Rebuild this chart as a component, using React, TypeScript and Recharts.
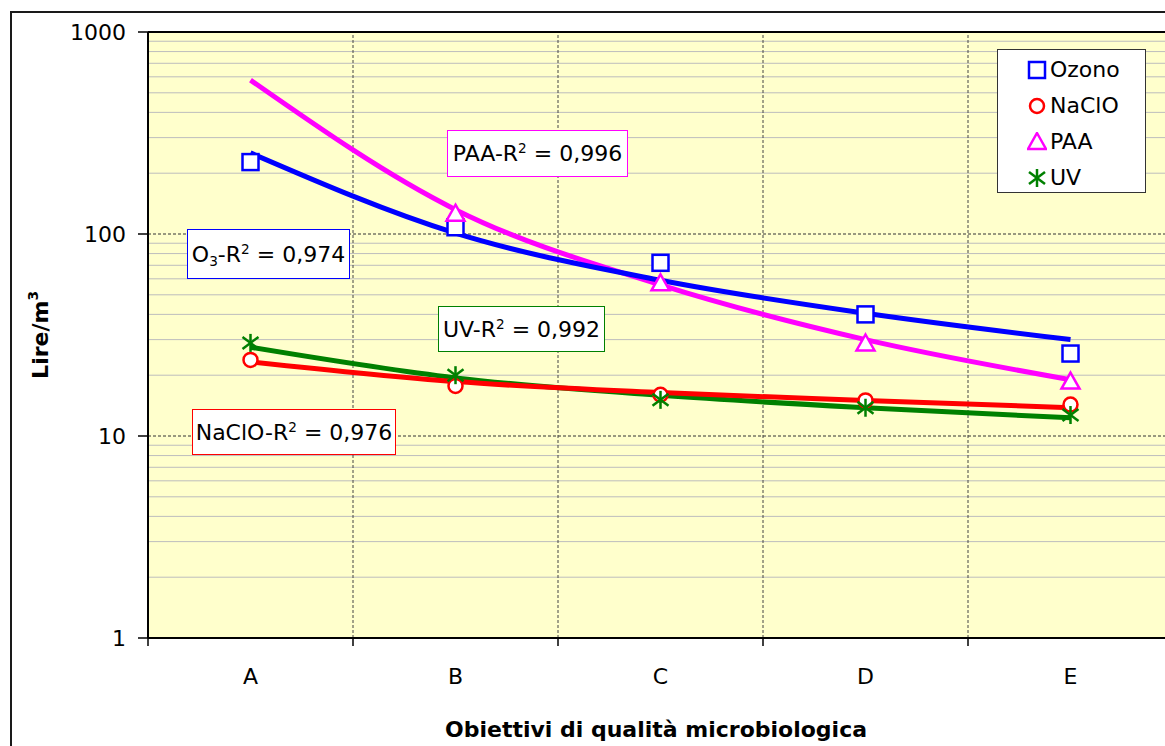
import {
  LineChart,
  Line,
  XAxis,
  YAxis,
  CartesianGrid,
  ReferenceLine,
  Legend,
} from 'recharts';

// categories on the x axis
const categories = ['A', 'B', 'C', 'D', 'E'];

// measured points (Lire/m3)
const ozono = [227, 108, 72, 40, 25.6];
const naclo = [23.8, 17.7, 16, 15, 14.3];
const paa = [null, 126, 57, 28.7, 18.6];
const uv = [28.9, 20, 15.1, 13.8, 12.7];

// trend curves at each category
const ozonoTrend = [252, 101, 59, 40.5, 30];
const nacloTrend = [23.3, 18.6, 16.4, 15, 13.8];
const paaTrend = [578, 132, 56, 30, 19];
const uvTrend = [27.5, 19.4, 15.9, 13.8, 12.3];

const yTicks = [1, 10, 100, 1000];
const majorGrid = [10, 100];
const minorGrid = [
  2, 3, 4, 5, 6, 7, 8, 9,
  20, 30, 40, 50, 60, 70, 80, 90,
  200, 300, 400, 500, 600, 700, 800, 900,
];
const xBoundaries = [1, 2, 3, 4];
const xTicks = [0, 0.5, 1, 1.5, 2, 2.5, 3, 3.5, 4, 4.5, 5];

const SERIES = [
  { key: 'ozono', name: 'Ozono', color: '#0000FF', shape: 'square' },
  { key: 'naclo', name: 'NaClO', color: '#FF0000', shape: 'circle' },
  { key: 'paa', name: 'PAA', color: '#FF00FF', shape: 'triangle' },
  { key: 'uv', name: 'UV', color: '#008000', shape: 'star' },
];

const data = categories.map((cat, i) => ({
  x: i + 0.5,
  cat,
  ozono: ozono[i],
  naclo: naclo[i],
  paa: paa[i],
  uv: uv[i],
  ozonoTrend: ozonoTrend[i],
  nacloTrend: nacloTrend[i],
  paaTrend: paaTrend[i],
  uvTrend: uvTrend[i],
}));

const FONT = '"DejaVu Sans", Verdana, sans-serif';

function Marker({ shape, color, cx, cy }: { shape: string; color: string; cx: number; cy: number }) {
  const sw = 2.5;
  if (shape === 'square') {
    return <rect x={cx - 8} y={cy - 8} width={16} height={16} fill="#fff" stroke={color} strokeWidth={sw} />;
  }
  if (shape === 'circle') {
    return <circle cx={cx} cy={cy} r={7} fill="#fff" stroke={color} strokeWidth={sw} />;
  }
  if (shape === 'triangle') {
    return (
      <path
        d={`M${cx},${cy - 9} L${cx + 9},${cy + 7} L${cx - 9},${cy + 7} Z`}
        fill="#fff"
        stroke={color}
        strokeWidth={sw}
      />
    );
  }
  return (
    <g stroke={color} strokeWidth={sw}>
      <line x1={cx} y1={cy - 9} x2={cx} y2={cy + 9} />
      <line x1={cx - 8} y1={cy - 6} x2={cx + 8} y2={cy + 6} />
      <line x1={cx - 8} y1={cy + 6} x2={cx + 8} y2={cy - 6} />
    </g>
  );
}

const makeDot = (shape: string, color: string) => (props: any) => {
  const { cx, cy, value, index } = props;
  if (cx == null || cy == null || value == null || isNaN(cy)) {
    return <g key={`e-${shape}-${index}`} />;
  }
  return (
    <g key={`d-${shape}-${index}`}>
      <Marker shape={shape} color={color} cx={cx} cy={cy} />
    </g>
  );
};

const XTick = (props: any) => {
  const { x, y, payload } = props;
  const v = payload.value;
  if (Number.isInteger(v)) {
    return <line x1={x} y1={y} x2={x} y2={y + 8} stroke="#000" strokeWidth={1.5} />;
  }
  return (
    <text x={x} y={y + 46} textAnchor="middle" fontSize={22} fontFamily={FONT} fill="#000">
      {categories[Math.floor(v)]}
    </text>
  );
};

const LegendBox = () => (
  <div
    style={{
      width: 149,
      height: 144,
      boxSizing: 'border-box',
      background: '#fff',
      border: '1px solid #333',
      paddingTop: 2,
      fontFamily: FONT,
      fontSize: 22,
      color: '#000',
    }}
  >
    {SERIES.map((s) => (
      <div key={s.key} style={{ height: 36, display: 'flex', alignItems: 'center', paddingLeft: 29 }}>
        <svg width={20} height={20}>
          <Marker shape={s.shape} color={s.color} cx={10} cy={10} />
        </svg>
        <span style={{ marginLeft: 3, lineHeight: 1 }}>{s.name}</span>
      </div>
    ))}
  </div>
);

const boxStyle = (left: number, top: number, width: number, height: number, color: string) => ({
  position: 'absolute' as const,
  left,
  top,
  width,
  height,
  boxSizing: 'border-box' as const,
  background: '#fff',
  border: `1px solid ${color}`,
  display: 'flex',
  alignItems: 'center',
  justifyContent: 'center',
  fontFamily: FONT,
  fontSize: 22,
  color: '#000',
  whiteSpace: 'nowrap' as const,
});

const sup = { fontSize: '0.62em', verticalAlign: '0.6em', lineHeight: 0 };
const sub = { fontSize: '0.62em', verticalAlign: '-0.3em', lineHeight: 0 };

export default function App() {
  return (
    <div
      style={{
        position: 'fixed',
        left: 0,
        top: 0,
        width: 1165,
        height: 746,
        overflow: 'hidden',
        background: '#fff',
        fontFamily: FONT,
      }}
    >
      <div
        style={{
          position: 'absolute',
          left: 10,
          top: 11,
          width: 1300,
          height: 900,
          border: '2px solid #1a1a1a',
        }}
      />
      <div style={{ position: 'absolute', left: 0, top: 0 }}>
        <LineChart width={1190} height={746} data={data} margin={{ top: 32, right: 17, bottom: 58, left: 0 }}>
          <CartesianGrid horizontal={false} vertical={false} fill="#FFFFCC" />
          <XAxis
            type="number"
            dataKey="x"
            domain={[0, 5]}
            ticks={xTicks}
            interval={0}
            tickLine={false}
            tickSize={0}
            tickMargin={0}
            height={50}
            tick={<XTick />}
            axisLine={{ stroke: '#000', strokeWidth: 2 }}
            allowDataOverflow
          />
          <YAxis
            type="number"
            scale="log"
            domain={[1, 1000]}
            ticks={yTicks}
            interval={0}
            allowDataOverflow
            width={148}
            tickSize={10}
            tickMargin={12}
            tick={{ fontSize: 22, fill: '#000', fontFamily: FONT }}
            tickLine={{ stroke: '#000', strokeWidth: 1.5 }}
            axisLine={{ stroke: '#000', strokeWidth: 2 }}
          />
          {minorGrid.map((v) => (
            <ReferenceLine key={`mn-${v}`} y={v} stroke="#bdbdbd" strokeWidth={1} />
          ))}
          {majorGrid.map((v) => (
            <ReferenceLine key={`mj-${v}`} y={v} stroke="#333" strokeWidth={1} strokeDasharray="3 2" />
          ))}
          {xBoundaries.map((v) => (
            <ReferenceLine key={`vx-${v}`} x={v} stroke="#444" strokeWidth={1} strokeDasharray="3 2" />
          ))}
          <ReferenceLine y={1000} stroke="#000" strokeWidth={2} />
          <ReferenceLine x={5} stroke="#000" strokeWidth={2} />

          {SERIES.map((s) => (
            <Line
              key={s.key}
              dataKey={s.key}
              name={s.name}
              stroke="none"
              dot={makeDot(s.shape, s.color)}
              activeDot={false}
              isAnimationActive={false}
            />
          ))}

          <Line dataKey="paaTrend" type="monotone" stroke="#FF00FF" strokeWidth={5} dot={false} activeDot={false} legendType="none" isAnimationActive={false} />
          <Line dataKey="ozonoTrend" type="monotone" stroke="#0000FF" strokeWidth={5} dot={false} activeDot={false} legendType="none" isAnimationActive={false} />
          <Line dataKey="uvTrend" type="monotone" stroke="#008000" strokeWidth={5} dot={false} activeDot={false} legendType="none" isAnimationActive={false} />
          <Line dataKey="nacloTrend" type="monotone" stroke="#FF0000" strokeWidth={5} dot={false} activeDot={false} legendType="none" isAnimationActive={false} />

          <Legend
            layout="vertical"
            align="center"
            verticalAlign="middle"
            content={() => <LegendBox />}
            wrapperStyle={{ position: 'absolute', left: 997, top: 49, width: 149, height: 144 }}
          />
        </LineChart>
      </div>

      <div style={boxStyle(447, 130, 181, 47, '#FF00FF')}>
        <span>PAA-R<span style={sup}>2</span>&nbsp;=&nbsp;0,996</span>
      </div>
      <div style={boxStyle(187, 229, 163, 50, '#0000FF')}>
        <span>O<span style={sub}>3</span>-R<span style={sup}>2</span>&nbsp;=&nbsp;0,974</span>
      </div>
      <div style={boxStyle(438, 306, 167, 46, '#008000')}>
        <span>UV-R<span style={sup}>2</span>&nbsp;=&nbsp;0,992</span>
      </div>
      <div style={boxStyle(192, 409, 204, 46, '#FF0000')}>
        <span>NaClO-R<span style={sup}>2</span>&nbsp;=&nbsp;0,976</span>
      </div>

      <div
        style={{
          position: 'absolute',
          left: 40,
          top: 335,
          transform: 'translate(-50%, -50%) rotate(-90deg)',
          fontWeight: 'bold',
          fontSize: 22,
          whiteSpace: 'nowrap',
          color: '#000',
        }}
      >
        Lire/m<span style={{ fontSize: '0.62em', verticalAlign: '0.7em', lineHeight: 0 }}>3</span>
      </div>
      <div
        style={{
          position: 'absolute',
          left: 656,
          top: 729,
          transform: 'translate(-50%, -50%)',
          fontWeight: 'bold',
          fontSize: 22,
          whiteSpace: 'nowrap',
          color: '#000',
        }}
      >
        Obiettivi di qualità microbiologica
      </div>
    </div>
  );
}
